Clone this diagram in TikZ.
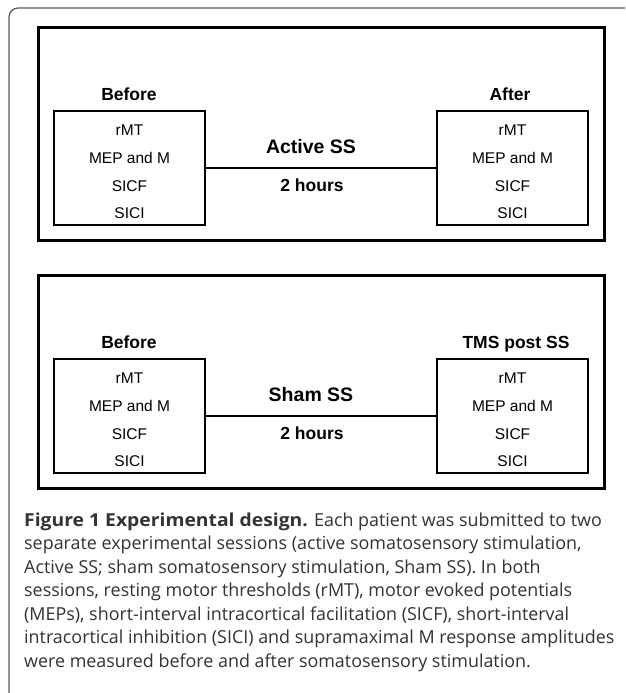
\documentclass[tikz,border=0pt]{standalone}
\usepackage{fontspec}
\setmainfont{Liberation Sans}
\newfontfamily\capfont[BoldFeatures={FakeStretch=1.08}]{Open Sans}
\begin{document}
\begin{tikzpicture}[x=1pt,y=-1pt,
  bigbox/.style={draw=black,line width=3.4pt,minimum width=566pt,minimum height=213pt,anchor=north west,inner sep=0pt},
  smallbox/.style={draw=black,line width=1.9pt,minimum width=151pt,minimum height=114pt,inner sep=0pt},
  item/.style={anchor=base,inner sep=0pt,font=\fontsize{15.5}{18}\selectfont},
  head/.style={anchor=base,inner sep=0pt,font=\bfseries\fontsize{17.5}{20}\selectfont},
  cond/.style={anchor=base,inner sep=0pt,font=\bfseries\fontsize{19.5}{22}\selectfont},
  capline/.style={anchor=base west,inner sep=0pt,text=black!80,font=\capfont\fontsize{17.9}{22}\selectfont},
  link/.style={draw=black,line width=1.9pt}]
\useasboundingbox (0,0) rectangle (625,693);
\fill[white] (0,0) rectangle (625,693);
\draw[black!65,line width=1.2pt,rounded corners=9pt] (625,8) -- (9,8) -- (9,693);
% panel 1
\node[bigbox] (p1) at (37,26) {};
\node[smallbox] (b1) at (129.5,168) {};
\node[smallbox] (a1) at (512.5,168) {};
\draw[link] (b1.east) -- (a1.west);
\node[head] (hb1) at (129,100.3) {Before};
\node[head] (ha1) at (510,100.3) {After};
\node[cond] (c1) at (311,153) {Active SS};
\node[head] (t1) at (312,191.3) {2 hours};
\foreach \n/\x in {b/129.5,a/512.5}{
  \node[item] (\n1r) at (\x,135.5) {rMT};
  \node[item] (\n1m) at (\x,163.5) {MEP and M};
  \node[item] (\n1f) at (\x,191.5) {SICF};
  \node[item] (\n1i) at (\x,218.5) {SICI};
}
% panel 2
\node[bigbox] (p2) at (37,274) {};
\node[smallbox] (b2) at (129.5,416) {};
\node[smallbox] (a2) at (512.5,416) {};
\draw[link] (b2.east) -- (a2.west);
\node[head] (hb2) at (129,348.3) {Before};
\node[head] (ha2) at (516,348.3) {TMS post SS};
\node[cond] (c2) at (311,401) {Sham SS};
\node[head] (t2) at (312,439.3) {2 hours};
\foreach \n/\x in {b/129.5,a/512.5}{
  \node[item] (\n2r) at (\x,383.5) {rMT};
  \node[item] (\n2m) at (\x,411.5) {MEP and M};
  \node[item] (\n2f) at (\x,439.5) {SICF};
  \node[item] (\n2i) at (\x,466.5) {SICI};
}
% caption
\node[capline] (l1) at (24,526) {\textbf{Figure 1 Experimental design.} Each patient was submitted to two};
\node[capline] (l2) at (24,549.5) {separate experimental sessions (active somatosensory stimulation,};
\node[capline] (l3) at (24,573) {Active SS; sham somatosensory stimulation, Sham SS). In both};
\node[capline] (l4) at (24,596.5) {sessions, resting motor thresholds (rMT), motor evoked potentials};
\node[capline] (l5) at (24,620) {(MEPs), short-interval intracortical facilitation (SICF), short-interval};
\node[capline] (l6) at (24,643.5) {intracortical inhibition (SICI) and supramaximal M response amplitudes};
\node[capline] (l7) at (24,667) {were measured before and after somatosensory stimulation.};
\end{tikzpicture}
\end{document}
